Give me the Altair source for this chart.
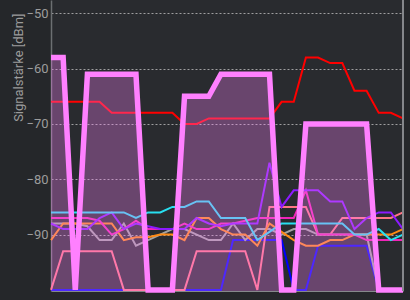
import altair as alt
import pandas as pd

# time index of the scan samples
T = list(range(30))

Y_MIN, Y_MAX = -100.2, -47.6
GRID_VALUES = [-90, -80, -70, -60, -50]

SERIES = ["blue", "salmon", "gray", "orange", "magenta", "purple", "cyan", "red"]
COLORS = ["#0000ff", "#ff7585", "#a3a3a3", "#ff8a14", "#f024b8", "#8c1aff", "#28dff0", "#ff0000"]

red = [-66, -66, -66, -66, -66, -68, -68, -68, -68, -68, -68, -70, -70, -69, -69,
       -69, -69, -69, -69, -66, -66, -58, -58, -59, -59, -64, -64, -68, -68, -69]
cyan = [-86, -86, -86, -86, -86, -86, -86, -87, -86, -86, -85, -85, -84, -84, -87,
        -87, -87, -91, -89.5, -88, -88, -88, -88, -88, -88, -90, -90, -89, -91, -90]
magenta = [-87, -87, -87, -87, -87.5, -90, -89, -87.5, -89, -89, -89, -88, -89, -89, -88,
           -88, -87.5, -87, -87, -87, -87, -82, -90, -90, -90, -90, -91, -91, -91, -91]
purple = [-88, -89, -89, -89, -87, -86, -89, -88, -88.5, -89, -89, -89, -87, -88, -88.5,
          -88, -88, -88, -77, -85, -82, -82, -82, -84, -84, -89, -87, -86, -86, -89]
orange = [-91, -88, -88, -88, -88, -88, -91, -90.5, -90.5, -90, -90, -91, -87, -87, -89,
          -90, -90, -92, -88, -89.5, -91, -92, -92, -91, -91, -90, -90, -90, -90, -89]
gray = [-88, -88, -88, -88.5, -91, -91, -88, -92, -91, -90, -89, -89, -90, -91, -91,
        -88, -91, -89, -89, -90, -89, -89, -90, -90, -90, -90, -90, -100, -100, -100]
salmon = [-100, -93, -93, -93, -93, -93, -100, -100, -100, -100, -100, -100, -93, -93, -93,
          -93, -93, -100, -85, -85, -85, -85, -90, -90, -87, -87, -87, -87, -87, -86]
blue = [-100, -100, -100, -100, -100, -100, -100, -100, -100, -100, -100, -100, -100, -100, -100,
        -91, -91, -91, -91, -91, -100, -100, -92, -92, -92, -92, -92, -100, -100, -100]
# highlighted network (thick line with fill)
pink = [-58, -58, -100, -61, -61, -61, -61, -61, -100, -100, -100, -65, -65, -65, -61,
        -61, -61, -61, -61, -100, -100, -70, -70, -70, -70, -70, -70, -100, -100, -100]

values = {"blue": blue, "salmon": salmon, "gray": gray, "orange": orange,
          "magenta": magenta, "purple": purple, "cyan": cyan, "red": red}

rows = []
for k, name in enumerate(SERIES):
    for t, v in zip(T, values[name]):
        rows.append({"t": t, "dbm": v, "net": name, "ord": k})
df = pd.DataFrame(rows)
dfp = pd.DataFrame({"t": T, "dbm": pink})

W, H = 352, 291

x = alt.X("t:Q", scale=alt.Scale(domain=[0, 29], nice=False, zero=False),
          axis=alt.Axis(labels=False, ticks=False, grid=False, title=None,
                        domainColor="#85888b", domainWidth=1.2))
y_axis = alt.Axis(values=GRID_VALUES, grid=True, gridColor="#b4b4b4", gridDash=[2, 2],
                  gridOpacity=0.85, gridWidth=1, ticks=False, domain=True,
                  domainColor="#6c6f72", domainWidth=1.5,
                  labelColor="#9c9c9c", labelFont="Roboto", labelFontSize=13, labelPadding=3,
                  title="Signalstärke [dBm]", titleColor="#9c9c9c", titleFont="Roboto",
                  titleFontSize=13, titleFontWeight="normal", titleAngle=270,
                  titleAlign="right", titleBaseline="alphabetic", titleX=-29, titleY=13)
yscale = alt.Scale(domain=[Y_MIN, Y_MAX], nice=False, zero=False)

lines = alt.Chart(df).mark_line(strokeWidth=2, interpolate="linear").encode(
    x=x,
    y=alt.Y("dbm:Q", scale=yscale, axis=y_axis),
    color=alt.Color("net:N", scale=alt.Scale(domain=SERIES, range=COLORS), legend=None),
    detail="net:N",
    order="t:Q",
)

fill = alt.Chart(dfp).mark_area(color="#ff80ff", opacity=0.3, interpolate="linear").encode(
    x="t:Q", y=alt.Y("dbm:Q", scale=yscale), y2=alt.datum(Y_MIN)
)

pline = alt.Chart(dfp).mark_line(color="#ff80ff", strokeWidth=5.5, interpolate="linear").encode(
    x="t:Q", y=alt.Y("dbm:Q", scale=yscale)
)

frame_right = alt.Chart(dfp).mark_rule(color="#85888b", strokeWidth=1.2).encode(
    x=alt.value(W), y=alt.value(0), y2=alt.value(H)
)

chart = alt.layer(lines, fill, pline, frame_right).properties(
    width=W, height=H,
    autosize=alt.AutoSizeParams(type="none"),
    padding={"left": 51, "top": 0, "right": 7, "bottom": 9},
    background="#25272a",
).configure_view(fill="#292b2f", stroke=None)

chart.save("out.html", embed_options={"renderer": "svg", "actions": False})
